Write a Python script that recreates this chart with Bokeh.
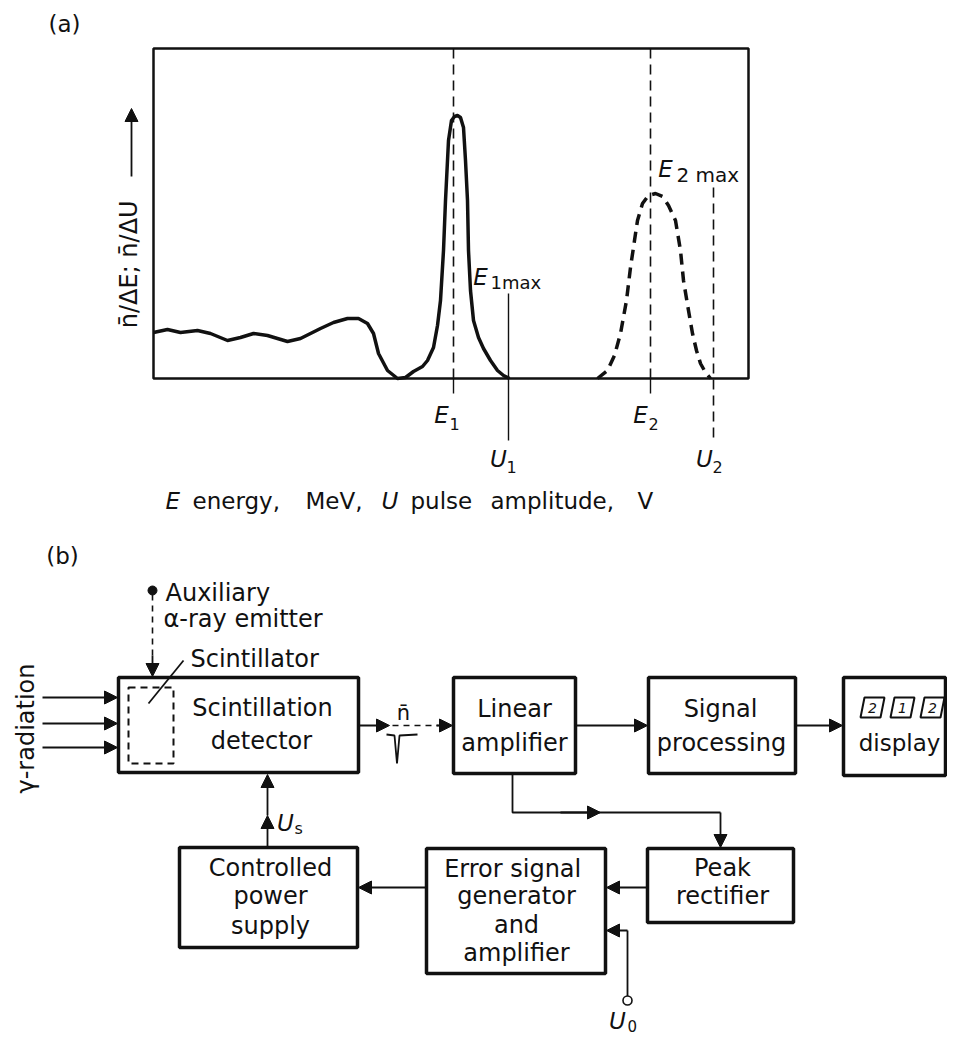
from math import pi
from bokeh.plotting import figure
from bokeh.models import Range1d, ColumnDataSource, Arrow, NormalHead
from bokeh.core.properties import value
from bokeh.embed import file_html
from bokeh.resources import INLINE

FONT = "DejaVu Sans"

# ---------------- panel (a): pulse-height spectrum ----------------
frame_left, frame_right, frame_top, frame_bottom = [153], [748], [48], [378]

spec1_x = [153, 167, 180, 197, 210, 227, 240, 253, 267, 287, 300, 320, 333, 347, 358, 367,
           373, 378, 387, 397, 405, 413, 422, 427, 433, 437, 440, 443, 445, 448, 451, 454,
           457, 460, 463, 465, 467, 468, 470, 473, 478, 483, 490, 497, 503, 509]
spec1_y = [332, 329, 332, 330, 333, 340, 337, 333, 335, 341, 338, 328, 322, 318, 318, 323,
           333, 353, 370, 378, 377, 371, 366, 360, 347, 325, 300, 250, 200, 140, 120, 116,
           115, 117, 127, 160, 200, 250, 290, 320, 337, 348, 360, 370, 375, 378]

spec2_x = [597, 607, 614, 620, 626, 630, 634, 637, 642, 648, 655, 662, 668, 675, 680, 683,
           688, 692, 696, 700, 705, 710]
spec2_y = [378, 370, 355, 333, 300, 267, 240, 220, 203, 195, 193, 196, 205, 220, 250, 280,
           310, 333, 350, 363, 372, 378]

dash_marker_x = [453, 650, 713]
dash_marker_top = [48, 48, 187]
dash_marker_bottom = [378, 378, 440]
tick_x = [453, 650, 508]
tick_top = [378, 378, 293]
tick_bottom = [393, 393, 440]

sym_text = ["E", "U", "E", "U", "E", "E", "U", "U"]
sym_x = [441, 498, 640, 704, 480, 665, 285, 617]
sym_y = [414, 458, 414, 458, 276, 168, 822, 1020]
sub_text = ["1", "1", "2", "2", "1max", "2 max", "s", "0"]
sub_x = [449, 506, 648, 712, 490, 676, 294, 627]
sub_y = [423, 466, 423, 466, 282, 174, 828, 1025]
sub_size = ["16px", "16px", "16px", "16px", "18px", "20px", "16px", "15px"]

cap_text = ["E", "energy,", "MeV,", "U", "pulse", "amplitude,", "V"]
cap_x = [165, 192, 305, 381, 410, 490, 637]
cap_style = ["italic", "normal", "normal", "italic", "normal", "normal", "normal"]
cap_y = 500

# ---------------- panel (b): block diagram ----------------
box_left = [118, 453, 648, 843, 179, 426, 647]
box_right = [358, 575, 795, 945, 357, 605, 793]
box_top = [677, 677, 677, 677, 847, 848, 848]
box_bottom = [772, 773, 773, 775, 947, 973, 922]

box_text = ["Scintillation", "detector", "Linear", "amplifier", "Signal", "processing",
            "display", "Controlled", "power", "supply", "Error  signal", "generator",
            "and", "amplifier", "Peak", "rectifier"]
box_text_x = [262, 261, 514, 514, 720, 721, 899, 270, 270, 270, 516, 516, 516, 516, 722, 722]
box_text_y = [707, 740, 708, 742, 708, 742, 742, 867, 895, 925, 868, 895, 924, 952, 867, 895]
box_text_size = ["24px"] * 6 + ["23px"] + ["24px"] * 9

free_text = ["Auxiliary", "α-ray emitter", "Scintillator"]
free_x = [165, 163, 190]
free_y = [592, 618, 658]

arrow_x0 = [42, 42, 42, 358, 436, 575, 795, 560, 720, 647, 426, 627, 267, 267, 152]
arrow_y0 = [697, 723, 747, 725, 725, 725, 725, 812, 812, 887, 887, 930, 847, 815, 655]
arrow_x1 = [117, 117, 117, 389, 452, 647, 842, 600, 720, 606, 358, 606, 267, 267, 152]
arrow_y1 = [697, 723, 747, 725, 725, 725, 725, 812, 847, 887, 887, 930, 815, 774, 676]

wire_xs = [[512, 512, 720], [627, 627], [148, 183], [386, 394, 396.5, 399, 417]]
wire_ys = [[773, 812, 812], [996, 930], [703, 660], [734, 735, 763, 735, 734]]

digit_left = [860, 890, 920]
digit_w = 24
digit_text = ["2", "1", "2"]

# ---------------- figure ----------------
W, H = 947, 1034
p = figure(width=W, height=H, x_range=Range1d(0, W), y_range=Range1d(H, 0),
           output_backend="svg", toolbar_location=None, min_border=0,
           x_axis_type=None, y_axis_type=None)
p.grid.visible = False
p.outline_line_color = None
p.background_fill_color = "white"
p.border_fill_color = "white"

ink = "#111111"

# panel (a)
p.quad(left=frame_left, right=frame_right, top=frame_top, bottom=frame_bottom,
       fill_color=None, line_color=ink, line_width=2.5)
p.segment(x0=dash_marker_x, y0=dash_marker_top, x1=dash_marker_x, y1=dash_marker_bottom,
          line_color=ink, line_width=1.6, line_dash="10 6")
p.segment(x0=tick_x, y0=tick_top, x1=tick_x, y1=tick_bottom, line_color=ink, line_width=1.4)
p.line(spec1_x, spec1_y, line_color=ink, line_width=3.5, line_join="round")
p.line(spec2_x, spec2_y, line_color=ink, line_width=3.5, line_dash="11 7")

p.text(x=sym_x, y=sym_y, text=sym_text, text_font=value(FONT), text_font_size="23px",
       text_font_style="italic", text_align="center", text_baseline="middle", text_color=ink)
p.text(x=sub_x, y=sub_y, text=sub_text, text_font=value(FONT), text_font_size=sub_size,
       text_align="left", text_baseline="middle", text_color=ink)
p.text(x=cap_x, y=[cap_y] * len(cap_x), text=cap_text, text_font=value(FONT),
       text_font_size="23px", text_font_style=cap_style, text_align="left",
       text_baseline="middle", text_color=ink)
p.text(x=[64, 62], y=[23, 555], text=["(a)", "(b)"], text_font=value(FONT),
       text_font_size="23px", text_align="center", text_baseline="middle", text_color=ink)
p.text(x=[128], y=[260], text=["n̄/ΔE;  n̄/ΔU"], angle=[pi / 2], text_font=value(FONT),
       text_font_size="24px", text_align="center", text_baseline="middle", text_color=ink)
p.add_layout(Arrow(end=NormalHead(size=13, fill_color=ink, line_color=ink),
                   x_start=131, y_start=176, x_end=131, y_end=108,
                   line_color=ink, line_width=1.8))

# panel (b)
p.quad(left=box_left, right=box_right, top=box_top, bottom=box_bottom,
       fill_color=None, line_color=ink, line_width=3.5)
p.quad(left=[128], right=[173], top=[687], bottom=[763], fill_color=None,
       line_color=ink, line_width=2, line_dash="7 5")
p.text(x=box_text_x, y=box_text_y, text=box_text, text_font=value(FONT),
       text_font_size=box_text_size, text_align="center", text_baseline="middle",
       text_color=ink)
p.text(x=free_x, y=free_y, text=free_text, text_font=value(FONT), text_font_size="24px",
       text_align="left", text_baseline="middle", text_color=ink)
p.text(x=[25], y=[728], text=["γ-radiation"], angle=[pi / 2], text_font=value(FONT),
       text_font_size="24px", text_align="center", text_baseline="middle", text_color=ink)
p.text(x=[403], y=[712], text=["n̄"], text_font=value(FONT), text_font_size="21px",
       text_align="center", text_baseline="middle", text_color=ink)

p.multi_line(xs=wire_xs, ys=wire_ys, line_color=ink, line_width=1.8)
p.segment(x0=[392, 152], y0=[725, 594], x1=[438, 152], y1=[725, 658],
          line_color=ink, line_width=1.6, line_dash="6 5")
p.scatter(x=[152], y=[590], size=9, fill_color=ink, line_color=ink)
p.scatter(x=[627], y=[1000], size=9, fill_color="white", line_color=ink, line_width=1.6)

arrows = ColumnDataSource(dict(x0=arrow_x0, y0=arrow_y0, x1=arrow_x1, y1=arrow_y1))
p.add_layout(Arrow(end=NormalHead(size=13, fill_color=ink, line_color=ink),
                   x_start="x0", y_start="y0", x_end="x1", y_end="y1", source=arrows,
                   line_color=ink, line_width=1.8))

dig_xs = [[l, l + digit_w - 4, l + digit_w, l + 4] for l in digit_left]
dig_ys = [[717, 717, 697, 697] for _ in digit_left]
p.patches(xs=dig_xs, ys=dig_ys, fill_color=None, line_color=ink, line_width=2)
p.text(x=[l + digit_w / 2 for l in digit_left], y=[707] * 3, text=digit_text,
       text_font=value(FONT), text_font_size="14px", text_font_style="italic",
       text_align="center", text_baseline="middle", text_color=ink)

open("out.html", "w").write(file_html(p, INLINE))
